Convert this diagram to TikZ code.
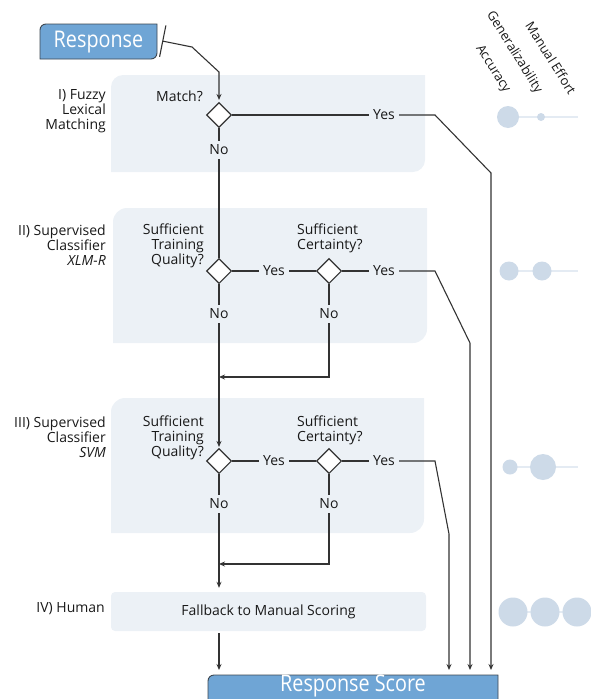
\documentclass[tikz,border=0pt]{standalone}
\usepackage{fontspec}
\setmainfont{Open Sans}
\newfontfamily\condfont[FakeStretch=0.86]{Open Sans}
\usetikzlibrary{arrows.meta,shapes.geometric}
\definecolor{panelc}{HTML}{ECF1F6}
\definecolor{respc}{HTML}{6FA5D5}
\definecolor{edgec}{HTML}{333333}
\definecolor{dotc}{HTML}{CDDAE8}
\definecolor{dotline}{HTML}{E4EBF3}
\definecolor{boxline}{HTML}{3C4650}
% rounded top-left and bottom-right corners
\newcommand\rpanel[6]{\path[#6] (#1,#2+#5) .. controls (#1,#2+0.448*#5) and (#1+0.448*#5,#2) .. (#1+#5,#2) -- (#3,#2) -- (#3,#4-#5) .. controls (#3,#4-0.448*#5) and (#3-0.448*#5,#4) .. (#3-#5,#4) -- (#1,#4) -- cycle;}
\begin{document}
\begin{tikzpicture}[x=1pt,y=-1pt,
  every node/.style={inner sep=0pt, font=\fontsize{14}{15}\selectfont, text=black!90},
  flow/.style={draw=edgec, line width=1.1pt},
  arr/.style={flow, -{Stealth[length=6pt,width=5pt]}},
  dec/.style={diamond, draw=edgec, fill=white, line width=1.1pt, minimum width=25pt, minimum height=25pt, aspect=1},
  cl/.style={inner sep=4pt},
  stage/.style={align=right, anchor=east},
  rot/.style={rotate=-58, anchor=east, font=\fontsize{13}{13}\selectfont},
  bigtxt/.style={text=white, font=\condfont\fontsize{23}{23}\selectfont}]
\clip (0,0) rectangle (591,699);
\useasboundingbox (0,0) rectangle (591,699);

% panels
\rpanel{111}{75}{425}{172}{12}{fill=panelc}
\rpanel{113}{208}{427}{343}{14}{fill=panelc}
\rpanel{111}{398}{424}{533}{14}{fill=panelc}

% response boxes
\rpanel{40}{24}{157}{59}{6}{fill=respc, draw=boxline, line width=0.9pt}
\node[bigtxt, minimum width=117pt] (resp) at (98.5,42.5) {Response};
\rpanel{208}{675}{498}{710}{6}{fill=respc, draw=boxline, line width=0.9pt}
\node[bigtxt] (score) at (353,686) {Response Score};
\coordinate (scoretop) at (353,675);

% stage labels
\node[stage] (lI) at (106,111.5) {I) Fuzzy\\Lexical\\Matching};
\node[stage] (lII) at (106,245.5) {II) Supervised\\Classifier\\\textit{XLM-R}};
\node[stage] (lIII) at (106,437.5) {III) Supervised\\Classifier\\\textit{SVM}};
\node[stage] (lIV) at (105,609) {IV) Human};

% panel IV
\node[fill=panelc, rounded corners=4pt, minimum width=315pt, minimum height=39pt] (pIV) at (268.5,611.5) {Fallback to Manual Scoring};

% decisions
\node[dec] (dI) at (219,115) {};
\node[dec] (dIIa) at (219,271) {};
\node[dec] (dIIb) at (329,271) {};
\node[dec] (dIIIa) at (219,461) {};
\node[dec] (dIIIb) at (329,461) {};

% questions
\node[anchor=east] (qI) at (203,96) {Match?};
\node[stage] (qIIa) at (204,245.5) {Sufficient\\Training\\Quality?};
\node[align=left, anchor=west] (qIIb) at (297,238) {Sufficient\\Certainty?};
\node[stage] (qIIIa) at (204,437.5) {Sufficient\\Training\\Quality?};
\node[align=left, anchor=west] (qIIIb) at (297,430) {Sufficient\\Certainty?};

% yes / no labels
\node[cl] (yI) at (384,115) {Yes};
\node[cl] (nI) at (219,150) {No};
\node[cl] (yIIa) at (274,271) {Yes};
\node[cl] (yIIb) at (384,271) {Yes};
\node[cl] (nIIa) at (219,314) {No};
\node[cl] (nIIb) at (329,314) {No};
\node[cl] (yIIIa) at (274,461) {Yes};
\node[cl] (yIIIb) at (384,461) {Yes};
\node[cl] (nIIIa) at (219,504) {No};
\node[cl] (nIIIb) at (329,504) {No};

% bend points
\coordinate (rb) at ([xshift=5pt,yshift=1.5pt]resp.east);
\coordinate (r1) at (192,47);
\coordinate (r2) at (219,72);
\coordinate (kI1) at (435,115);
\coordinate (kI2) at (491,173);
\coordinate (kII1) at (435,271);
\coordinate (kII2) at (470,343);
\coordinate (kII3) at (329,377);
\coordinate (kIII1) at (435,461);
\coordinate (kIII2) at (449,534);
\coordinate (kIII3) at (329,564);

% connectors
\draw[flow, {Bar[width=32pt,line width=1.1pt]}-{Stealth[length=6pt,width=5pt]}, shorten >=2pt] (rb) -- (r1) -- (r2) -- (dI.north);
\draw[flow] (dI.east) -- (yI.west);
\draw[arr, shorten >=5pt] (yI.east) -- (kI1) -- (kI2) -- (kI2 |- scoretop);
\draw[flow] (dI.south) -- (nI.north);
\draw[flow] (nI.south) -- (dIIa.north);

\draw[flow] (dIIa.east) -- (yIIa.west);
\draw[flow] (yIIa.east) -- (dIIb.west);
\draw[flow] (dIIb.east) -- (yIIb.west);
\draw[arr, shorten >=5pt] (yIIb.east) -- (kII1) -- (kII2) -- (kII2 |- scoretop);
\draw[flow] (dIIb.south) -- (nIIb.north);
\draw[arr] (nIIb.south) -- (kII3) -- (kII3 -| nIIa);
\draw[flow] (dIIa.south) -- (nIIa.north);
\draw[arr, shorten >=1pt] (nIIa.south) -- (dIIIa.north);

\draw[flow] (dIIIa.east) -- (yIIIa.west);
\draw[flow] (yIIIa.east) -- (dIIIb.west);
\draw[flow] (dIIIb.east) -- (yIIIb.west);
\draw[arr, shorten >=5pt] (yIIIb.east) -- (kIII1) -- (kIII2) -- (kIII2 |- scoretop);
\draw[flow] (dIIIb.south) -- (nIIIb.north);
\draw[arr] (nIIIb.south) -- (kIII3) -- (kIII3 -| nIIIa);
\draw[flow] (dIIIa.south) -- (nIIIa.north);
\draw[arr, shorten >=4pt] (nIIIa.south) -- (nIIIa |- pIV.north);
\draw[arr, shorten <=2pt, shorten >=5pt] (nIIIa |- pIV.south) -- (nIIIa |- scoretop);

% criteria headers
\node[rot] (hAcc) at (507,92) {Accuracy};
\node[rot] (hGen) at (539,92) {Generalizability};
\node[rot] (hMan) at (573,93) {Manual Effort};

% ratings
\draw[dotline, line width=2pt] (508,117) -- (578,117);
\fill[dotc] (508,117) circle[radius=11pt] (541,117) circle[radius=4pt];
\draw[dotline, line width=2pt] (509,271) -- (578,271);
\fill[dotc] (509,271) circle[radius=9.5pt] (542,271) circle[radius=9.5pt];
\draw[dotline, line width=2pt] (510,467) -- (578,467);
\fill[dotc] (510,467) circle[radius=7.5pt] (543,467) circle[radius=13pt];
\draw[dotline, line width=2pt] (513,612) -- (577,612);
\fill[dotc] (513,612) circle[radius=14.5pt] (545,612) circle[radius=14.5pt] (577,612) circle[radius=14.5pt];
\end{tikzpicture}
\end{document}
